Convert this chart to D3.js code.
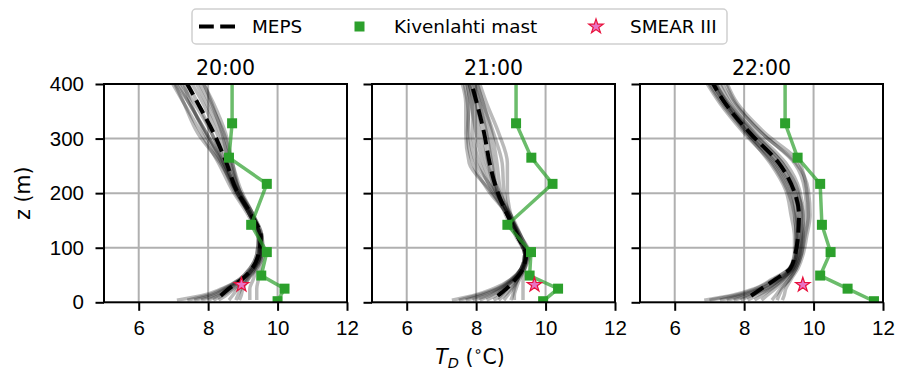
<!DOCTYPE html>
<html>
<head>
<meta charset="utf-8">
<script src="https://cdn.jsdelivr.net/npm/d3@7"></script>
<style>
  body { margin: 0; background: #fff; }
  svg { font-family: "DejaVu Sans", sans-serif; }
</style>
</head>
<body>
<div id="chart"></div>
<script>
// ---- data ----
var times = ["20:00", "21:00", "22:00"];
var xTicks = [6, 8, 10, 12];
var yTicks = [0, 100, 200, 300, 400];

// MEPS model levels (m)
var mepsLevels = [4, 12, 25, 42, 62, 88, 120, 160, 205, 255, 310, 365, 420];

// ensemble members, one list per member, T_D at mepsLevels
var meps20 = [
    [7.1, 7.8, 8.4, 8.9, 9.2, 9.4, 9.45, 9.2, 8.8, 8.5, 8.1, 7.6, 7.0],
    [7.6, 8.1, 8.5, 8.95, 9.25, 9.45, 9.5, 9.25, 8.85, 8.55, 8.25, 7.85, 7.35],
    [8.0, 8.3, 8.6, 9.0, 9.3, 9.5, 9.55, 9.3, 8.9, 8.65, 8.35, 7.95, 7.5],
    [8.3, 8.5, 8.75, 9.05, 9.3, 9.5, 9.5, 9.2, 8.75, 8.4, 7.95, 7.45, 6.85],
    [8.6, 8.7, 8.85, 9.1, 9.35, 9.55, 9.55, 9.3, 8.95, 8.7, 8.45, 8.05, 7.6],
    [8.9, 8.95, 9.0, 9.15, 9.35, 9.5, 9.45, 9.15, 8.7, 8.3, 7.8, 7.3, 6.8],
    [9.2, 9.2, 9.2, 9.3, 9.4, 9.5, 9.5, 9.25, 8.85, 8.45, 7.95, 7.45, 7.0],
    [9.4, 9.4, 9.4, 9.45, 9.5, 9.55, 9.5, 9.3, 8.9, 8.6, 8.4, 8.1, 7.75],
    [7.4, 7.95, 8.45, 8.9, 9.2, 9.4, 9.45, 9.2, 8.8, 8.35, 7.7, 7.3, 6.9],
    [8.15, 8.4, 8.7, 9.0, 9.3, 9.5, 9.5, 9.25, 8.9, 8.7, 8.5, 8.15, 7.7],
    [8.8, 8.85, 8.95, 9.15, 9.4, 9.6, 9.55, 9.2, 8.8, 8.4, 7.9, 7.5, 7.2],
    [7.8, 8.2, 8.55, 8.95, 9.25, 9.45, 9.45, 9.2, 8.8, 8.45, 8.1, 7.7, 7.25]
];
var meps21 = [
    [7.3, 7.9, 8.5, 9.0, 9.3, 9.4, 9.2, 8.9, 8.4, 7.8, 7.7, 7.7, 7.5],
    [7.7, 8.15, 8.65, 9.05, 9.3, 9.45, 9.25, 8.95, 8.55, 8.2, 8.0, 7.85, 7.65],
    [8.1, 8.4, 8.75, 9.1, 9.35, 9.45, 9.2, 8.9, 8.7, 8.6, 8.45, 8.2, 7.95],
    [8.5, 8.7, 8.9, 9.15, 9.35, 9.4, 9.2, 8.95, 8.8, 8.75, 8.5, 8.2, 7.9],
    [8.8, 8.9, 9.05, 9.2, 9.35, 9.45, 9.25, 9.0, 8.65, 8.3, 8.1, 7.95, 7.7],
    [9.1, 9.1, 9.15, 9.25, 9.4, 9.5, 9.3, 9.0, 8.5, 8.0, 7.8, 7.75, 7.6],
    [9.35, 9.35, 9.35, 9.35, 9.4, 9.45, 9.2, 8.9, 8.35, 7.9, 7.75, 7.8, 7.7],
    [7.9, 8.3, 8.7, 9.05, 9.3, 9.4, 9.15, 8.85, 8.6, 8.45, 8.3, 8.1, 7.85],
    [8.3, 8.55, 8.8, 9.1, 9.3, 9.4, 9.2, 9.0, 8.9, 8.9, 8.65, 8.3, 8.0],
    [9.0, 9.05, 9.1, 9.2, 9.35, 9.5, 9.3, 8.95, 8.55, 8.35, 8.2, 8.0, 7.75],
    [7.5, 8.0, 8.6, 9.0, 9.3, 9.45, 9.25, 8.9, 8.45, 8.1, 7.9, 7.9, 7.7],
    [8.65, 8.8, 9.0, 9.2, 9.4, 9.55, 9.3, 8.95, 8.6, 8.5, 8.35, 8.1, 7.8]
];
var meps22 = [
    [6.85, 7.6, 8.3, 8.8, 9.3, 9.45, 9.5, 9.45, 9.25, 8.8, 8.0, 7.3, 6.75],
    [7.3, 7.85, 8.45, 8.95, 9.35, 9.5, 9.55, 9.55, 9.4, 8.95, 8.15, 7.4, 6.85],
    [7.7, 8.1, 8.6, 9.05, 9.4, 9.55, 9.65, 9.7, 9.6, 9.2, 8.35, 7.55, 7.0],
    [8.1, 8.35, 8.75, 9.1, 9.4, 9.55, 9.6, 9.6, 9.45, 9.0, 8.2, 7.5, 7.05],
    [8.5, 8.65, 8.9, 9.2, 9.45, 9.6, 9.7, 9.8, 9.75, 9.45, 8.5, 7.7, 7.2],
    [8.8, 8.9, 9.05, 9.3, 9.5, 9.65, 9.75, 9.85, 9.8, 9.6, 8.6, 7.8, 7.4],
    [9.1, 9.15, 9.2, 9.35, 9.55, 9.7, 9.8, 9.9, 9.85, 9.5, 8.5, 7.75, 7.35],
    [7.0, 7.7, 8.35, 8.85, 9.3, 9.45, 9.45, 9.35, 9.2, 8.75, 8.05, 7.35, 6.8],
    [7.9, 8.2, 8.65, 9.05, 9.4, 9.5, 9.5, 9.45, 9.3, 8.85, 8.1, 7.45, 6.9],
    [8.3, 8.5, 8.8, 9.15, 9.45, 9.6, 9.65, 9.65, 9.55, 9.1, 8.3, 7.6, 7.15],
    [8.95, 9.0, 9.1, 9.3, 9.5, 9.65, 9.7, 9.7, 9.5, 9.1, 8.25, 7.5, 7.0],
    [7.5, 8.0, 8.5, 9.0, 9.35, 9.5, 9.55, 9.5, 9.35, 8.9, 8.1, 7.45, 6.9]
];

// ensemble mean (null = not drawn)
var mean20 = [null, 8.36, 8.6, 8.97, 9.27, 9.45, 9.52, 9.25, 8.82, 8.53, 8.16, 7.7, 7.22];
var mean21 = [null, 8.62, 8.87, 9.13, 9.35, 9.43, 9.2, 8.9, 8.6, 8.39, 8.23, 8.02, 7.78];
var mean22 = [null, 8.2, 8.5, 8.9, 9.33, 9.47, 9.55, 9.58, 9.43, 9.0, 8.17, 7.45, 6.95];

// Kivenlahti mast
var mastHeights = [2, 25, 49, 92, 142, 217, 265, 328, 440];
var mast20 = [10.0, 10.2, 9.53, 9.69, 9.24, 9.69, 8.6, 8.69, 8.69];
var mast21 = [9.93, 10.36, 9.54, 9.58, 8.9, 10.2, 9.59, 9.15, 9.15];
var mast22 = [11.74, 10.98, 10.19, 10.49, 10.24, 10.19, 9.54, 9.18, 9.18];

// SMEAR III
var smearHeight = 32;
var smearT = [8.96, 9.68, 9.69];

var membersAll = [meps20, meps21, meps22];
var meanAll = [mean20, mean21, mean22];
var mastAll = [mast20, mast21, mast22];

// ---- layout ----
var W = 899, H = 375;
var panelLeft = [104, 372, 640];
var panelW = 243;
var plotTop = 84, plotBottom = 302.3;
var green = "#2ca02c";
var starFill = "#e873c4", starEdge = "#e8123c";
var fs = 20.5;

var svg = d3.select("#chart").append("svg")
    .attr("width", W)
    .attr("height", H);

var y = d3.scaleLinear().domain([0, 400]).range([plotBottom, plotTop]);

times.forEach(function (t, i) {
    let x = d3.scaleLinear().domain([5, 12]).range([panelLeft[i], panelLeft[i] + panelW]);
    let g = svg.append("g");

    svg.append("clipPath").attr("id", "clip" + i)
        .append("rect")
        .attr("x", panelLeft[i]).attr("y", plotTop)
        .attr("width", panelW).attr("height", plotBottom - plotTop);

    // grid
    g.selectAll(".vgrid").data(xTicks.filter(function (d) { return d < 12; }))
        .enter().append("line")
        .attr("x1", function (d) { return x(d); }).attr("x2", function (d) { return x(d); })
        .attr("y1", plotTop).attr("y2", plotBottom)
        .attr("stroke", "#b0b0b0").attr("stroke-width", 2);
    g.selectAll(".hgrid").data([100, 200, 300])
        .enter().append("line")
        .attr("x1", panelLeft[i]).attr("x2", panelLeft[i] + panelW)
        .attr("y1", function (d) { return y(d); }).attr("y2", function (d) { return y(d); })
        .attr("stroke", "#b0b0b0").attr("stroke-width", 2);

    let plot = g.append("g").attr("clip-path", "url(#clip" + i + ")");

    let line = d3.line()
        .defined(function (d) { return d[1] != null; })
        .x(function (d) { return x(d[1]); })
        .y(function (d) { return y(d[0]); })
        .curve(d3.curveMonotoneY);

    // ensemble members
    membersAll[i].forEach(function (m) {
        plot.append("path")
            .attr("d", line(d3.zip(mepsLevels, m)))
            .attr("fill", "none")
            .attr("stroke", "#000")
            .attr("stroke-opacity", 0.27)
            .attr("stroke-width", 3.5);
    });

    // ensemble mean
    plot.append("path")
        .attr("d", line(d3.zip(mepsLevels, meanAll[i])))
        .attr("fill", "none")
        .attr("stroke", "#000")
        .attr("stroke-width", 4)
        .attr("stroke-dasharray", "14.8,6.4");

    // mast
    let mastPts = d3.zip(mastHeights, mastAll[i]);
    plot.append("path")
        .attr("d", d3.line()
            .x(function (d) { return x(d[1]); })
            .y(function (d) { return y(d[0]); })(mastPts))
        .attr("fill", "none")
        .attr("stroke", green)
        .attr("stroke-opacity", 0.7)
        .attr("stroke-width", 3.5);
    plot.selectAll(".sq").data(mastPts)
        .enter().append("rect")
        .attr("x", function (d) { return x(d[1]) - 5; })
        .attr("y", function (d) { return y(d[0]) - 5; })
        .attr("width", 10).attr("height", 10)
        .attr("fill", green);

    // smear
    plot.append("path")
        .attr("d", d3.symbol().type(d3.symbolStar).size(65)())
        .attr("transform", "translate(" + x(smearT[i]) + "," + y(smearHeight) + ")")
        .attr("fill", starFill)
        .attr("stroke", starEdge)
        .attr("stroke-width", 1.2);

    // axes
    g.append("g")
        .attr("transform", "translate(0," + plotBottom + ")")
        .call(d3.axisBottom(x).tickValues(xTicks).tickFormat(d3.format("d")).tickSize(8.5).tickPadding(10))
        .call(function (a) {
            a.select(".domain").remove();
            a.selectAll("line").attr("stroke-width", 2);
            a.selectAll("text").attr("font-size", fs).attr("fill", "#000");
        });
    g.append("g")
        .attr("transform", "translate(" + panelLeft[i] + ",0)")
        .call(d3.axisLeft(y).tickValues(yTicks).tickFormat(d3.format("d")).tickSize(8.5).tickPadding(11.5))
        .call(function (a) {
            a.select(".domain").remove();
            a.selectAll("line").attr("stroke-width", 2);
            a.selectAll("text").attr("font-size", fs).attr("fill", "#000");
            if (i > 0) a.selectAll("text").remove();
        });

    g.append("rect")
        .attr("x", panelLeft[i]).attr("y", plotTop)
        .attr("width", panelW).attr("height", plotBottom - plotTop)
        .attr("fill", "none").attr("stroke", "#000").attr("stroke-width", 2);

    g.append("text")
        .attr("x", panelLeft[i] + panelW / 2)
        .attr("y", 74.5)
        .attr("text-anchor", "middle")
        .attr("font-size", fs)
        .text(t);
});

// axis labels
svg.append("text")
    .attr("transform", "translate(30," + (plotTop + plotBottom) / 2 + ") rotate(-90)")
    .attr("text-anchor", "middle")
    .attr("font-size", fs)
    .text("z (m)");

var xl = svg.append("text")
    .attr("x", 470).attr("y", 364)
    .attr("text-anchor", "middle")
    .attr("font-size", fs);
xl.append("tspan").attr("font-style", "italic").text("T");
xl.append("tspan").attr("font-style", "italic").attr("font-size", 14.5).attr("dy", 4).text("D");
xl.append("tspan").attr("dy", -4).text(" (");
xl.append("tspan").attr("font-size", 14.5).attr("dy", -8).text("∘");
xl.append("tspan").attr("dy", 8).text("C)");

// legend
var lfs = 18.4;
var lg = svg.append("g");
lg.append("rect")
    .attr("x", 192).attr("y", 9).attr("width", 535).attr("height", 35).attr("rx", 4)
    .attr("fill", "#fff").attr("stroke", "#d0d0d0").attr("stroke-width", 1.5);
lg.append("line")
    .attr("x1", 199).attr("x2", 235).attr("y1", 26.5).attr("y2", 26.5)
    .attr("stroke", "#000").attr("stroke-width", 4).attr("stroke-dasharray", "14.8,6.4");
lg.append("text").attr("x", 252).attr("y", 33).attr("font-size", lfs).text("MEPS");
lg.append("rect").attr("x", 354.5).attr("y", 21.5).attr("width", 10).attr("height", 10).attr("fill", green);
lg.append("text").attr("x", 394).attr("y", 33).attr("font-size", lfs).text("Kivenlahti mast");
lg.append("path")
    .attr("d", d3.symbol().type(d3.symbolStar).size(65)())
    .attr("transform", "translate(596,26.5)")
    .attr("fill", starFill).attr("stroke", starEdge).attr("stroke-width", 1.2);
lg.append("text").attr("x", 630).attr("y", 33).attr("font-size", lfs).text("SMEAR III");
</script>
</body>
</html>
